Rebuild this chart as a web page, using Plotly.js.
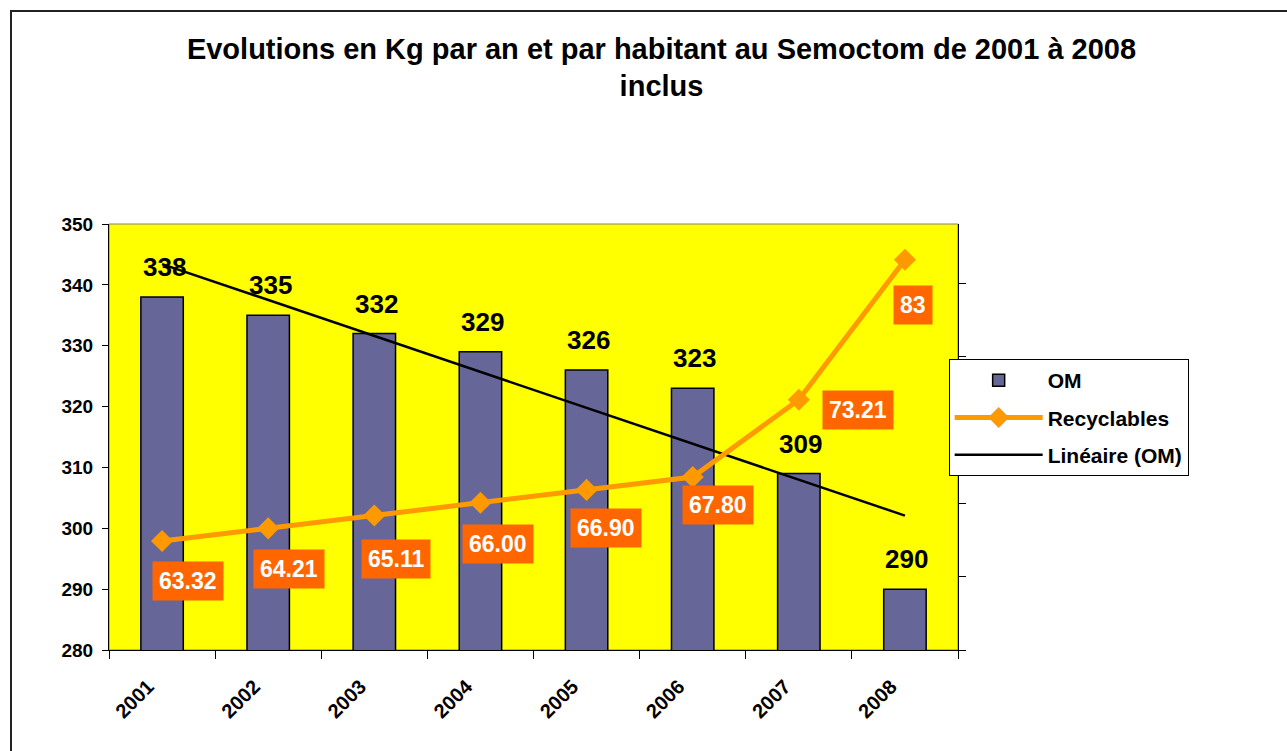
<!DOCTYPE html>
<html>
<head>
<meta charset="utf-8">
<script src="https://cdn.plot.ly/plotly-3.0.1.min.js"></script>
<style>
  html, body { margin: 0; padding: 0; background: #ffffff; overflow: hidden; }
  #chart { position: absolute; left: 0; top: 0; width: 1287px; height: 751px; }
  #frame { position: absolute; left: 10px; top: 10px; width: 1300px; height: 760px;
           border: 2px solid #222; pointer-events: none; box-sizing: border-box; }
</style>
</head>
<body>
<div id="chart"></div>
<div id="frame"></div>
<script>
// ---- data ----
const years = ['2001', '2002', '2003', '2004', '2005', '2006', '2007', '2008'];
const omValues = [338, 335, 332, 329, 326, 323, 309, 290];
const recyclables = [63.32, 64.21, 65.11, 66.00, 66.90, 67.80, 73.21, 83];
const recycLabels = ['63.32', '64.21', '65.11', '66.00', '66.90', '67.80', '73.21', '83'];
const yTickVals = [280, 290, 300, 310, 320, 330, 340, 350];

// ---- label offsets (pixels) ----
const recycOffsetX = [26, 21, 22, 18, 19, 25, 59, 8];
const recycOffsetY = [40, 41, 44, 41, 38, 28, 10, 45];

// category positions on the x scale (one slot per year)
const xPos = years.map((_, i) => i);

// Linear trend (Excel "Linéaire") computed from OM values
const n = omValues.length;
const xs = omValues.map((_, i) => i + 1);
const mx = xs.reduce((a, b) => a + b, 0) / n;
const my = omValues.reduce((a, b) => a + b, 0) / n;
let sxy = 0, sxx = 0;
for (let i = 0; i < n; i++) { sxy += (xs[i] - mx) * (omValues[i] - my); sxx += (xs[i] - mx) ** 2; }
const slope = sxy / sxx;
const intercept = my - slope * mx;
const trend = xs.map(x => intercept + slope * x);

const FONT = 'Arial, "Liberation Sans", sans-serif';

const data = [
  {
    type: 'bar', name: 'OM', x: xPos, y: omValues, legendgroup: 'a',
    marker: { color: '#666699', line: { color: '#000000', width: 1.5 } }
  },
  {
    type: 'scatter', mode: 'lines+markers', name: 'Recyclables', x: xPos, y: recyclables,
    yaxis: 'y2', legendgroup: 'b',
    line: { color: '#FF9900', width: 5 },
    marker: { symbol: 'diamond', size: 17, color: '#FF9900' }
  },
  {
    type: 'scatter', mode: 'lines', name: 'Linéaire (OM)', x: xPos, y: trend, legendgroup: 'c',
    line: { color: '#000000', width: 2.5 }
  }
];

const annotations = [];
xPos.forEach((xp, i) => {
  annotations.push({
    xref: 'x', yref: 'y', x: xp, y: omValues[i], text: String(omValues[i]),
    showarrow: false, yanchor: 'middle', xanchor: 'center', yshift: 30, xshift: 2,
    font: { family: FONT, size: 26, color: '#000000', weight: 'bold' }
  });
  annotations.push({
    xref: 'x', yref: 'y2', x: xp, y: recyclables[i], text: recycLabels[i],
    showarrow: false, yanchor: 'middle', xanchor: 'center',
    xshift: recycOffsetX[i], yshift: -recycOffsetY[i],
    bgcolor: '#FF6600', borderpad: 6,
    font: { family: FONT, size: 23, color: '#FFFFFF', weight: 'bold' }
  });
});

const layout = {
  width: 1287, height: 751,
  paper_bgcolor: '#FFFFFF', plot_bgcolor: '#FFFF00',
  margin: { l: 109, r: 329, t: 224, b: 101, pad: 0 },
  font: { family: FONT, color: '#000000' },
  title: {
    text: 'Evolutions en Kg par an et par habitant au Semoctom de 2001 à 2008<br>inclus',
    font: { family: FONT, size: 29, color: '#000000', weight: 'bold' },
    x: 0.514, xref: 'container', xanchor: 'center',
    y: 0.922, yref: 'container', yanchor: 'top'
  },
  bargap: 0.6,
  showlegend: true,
  legend: {
    x: 0.989, xanchor: 'left', y: 0.683, yanchor: 'top',
    bgcolor: '#FFFFFF', bordercolor: '#000000', borderwidth: 1,
    font: { family: FONT, size: 21, color: '#000000', weight: 'bold' },
    tracegroupgap: 7, traceorder: 'grouped', itemwidth: 88
  },
  xaxis: {
    range: [-0.5, 7.5], tickvals: xPos, ticktext: years, ticks: '',
    minor: { tick0: -0.5, dtick: 1, ticks: 'outside', ticklen: 8, tickcolor: '#000', tickwidth: 1, showgrid: false },
    showline: true, linecolor: '#000000', linewidth: 1,
    tickangle: -45, ticklabelshift: -14, ticklabelstandoff: 16,
    tickfont: { family: FONT, size: 20, color: '#000000', weight: 'bold' },
    showgrid: false, zeroline: false
  },
  yaxis: {
    range: [280, 350], tickvals: yTickVals,
    ticks: 'outside', ticklen: 6, tickcolor: '#000', ticklabelstandoff: 5,
    showline: true, linecolor: '#000000', linewidth: 1,
    tickfont: { family: FONT, size: 19, color: '#000000', weight: 'bold' },
    showgrid: false, zeroline: false
  },
  yaxis2: {
    overlaying: 'y', side: 'right', range: [55.7, 85.5],
    tick0: 55.7, dtick: 5.13, ticks: 'outside', ticklen: 7, tickcolor: '#000',
    showticklabels: false, showline: true, linecolor: '#000000', linewidth: 1,
    showgrid: false, zeroline: false
  },
  shapes: [{
    type: 'rect', xref: 'paper', yref: 'paper', x0: 0, x1: 1, y0: 0, y1: 1,
    line: { color: '#808080', width: 1 }, layer: 'below'
  }],
  annotations: annotations
};

Plotly.newPlot('chart', data, layout, { displayModeBar: false, staticPlot: true });
</script>
</body>
</html>
